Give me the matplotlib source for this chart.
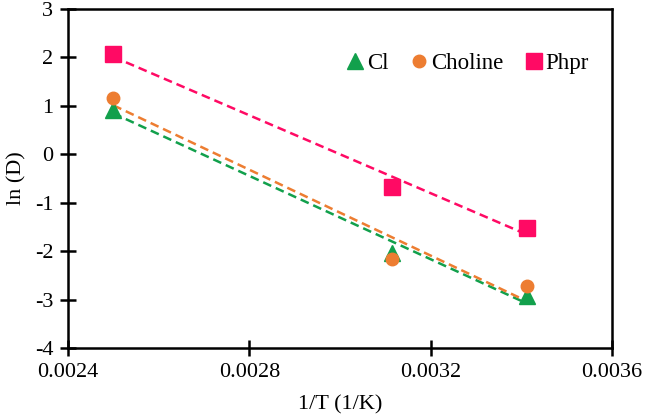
import numpy as np
import matplotlib
matplotlib.use('Agg')
import matplotlib.pyplot as plt

plt.rcParams['font.family'] = ['Liberation Serif', 'DejaVu Serif']
plt.rcParams['font.size'] = 16
plt.rcParams['axes.unicode_minus'] = False

# 1/T valores
inv_T = [0.0025, 0.003115, 0.003413]
# ln(D) por especie
ln_cl = [0.92, -2.03, -2.93]
ln_choline = [1.16, -2.17, -2.73]
ln_phpr = [2.08, -0.67, -1.52]

series = [
    ('Cl', ln_cl, '#12A04C', '^', 12),
    ('Choline', ln_choline, '#ED7D31', 'o', 9),
    ('Phpr', ln_phpr, '#FF0A64', 's', 11),
]

fig = plt.figure(figsize=(6.45, 4.19), dpi=100)
ax = fig.add_axes([68 / 645, 1 - 348 / 419, (612 - 68) / 645, (348 - 9) / 419])

x = np.array(inv_T)
for nome, y, cor, mk, ms in series:
    ax.plot(x, y, linestyle='none', marker=mk, color=cor, markersize=ms, label=nome, zorder=3)
    # linha de tendencia linear
    a, b = np.polyfit(x, y, 1)
    ax.plot(x[[0, -1]], a * x[[0, -1]] + b, '--', color=cor, lw=1.8, dashes=(3.5, 2), zorder=2)

ax.set_xlim(0.0024, 0.0036)
ax.set_ylim(-4, 3)
ax.set_xticks([0.0024, 0.0028, 0.0032, 0.0036])
ax.set_xticklabels(['0.0024', '0.0028', '0.0032', '0.0036'])
ax.set_yticks(range(-4, 4))
for s in ax.spines.values():
    s.set_linewidth(1.8)
ax.tick_params(direction='inout', length=11, width=1.8, pad=5)
ax.set_xlabel('1/T (1/K)', labelpad=10)
ax.set_ylabel('ln (D)', labelpad=6)

ax.legend(loc='upper right', bbox_to_anchor=(0.995, 0.93), ncol=3, frameon=False, fontsize=16.5,
          handletextpad=0.0, columnspacing=0.85, handlelength=1.0, markerscale=1.0)

fig.savefig('out.png', dpi=100)
